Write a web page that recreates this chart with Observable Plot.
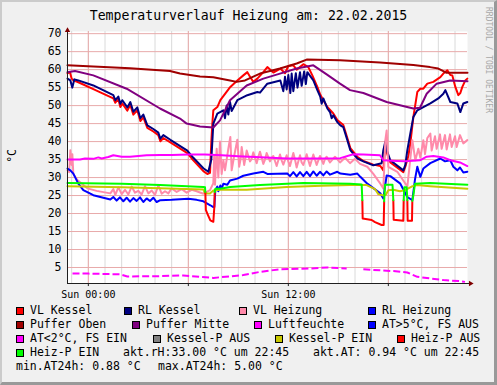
<!DOCTYPE html>
<html><head><meta charset="utf-8">
<script src="https://cdn.jsdelivr.net/npm/d3@7"></script>
<script src="https://cdn.jsdelivr.net/npm/@observablehq/plot@0.6"></script>
<style>
html,body{margin:0;padding:0;background:#f0f0f0;}
#wrap{position:relative;width:497px;height:385px;background:#f0f0f0;overflow:hidden;font-family:"DejaVu Sans Mono",monospace;color:#000;}
#frame{position:absolute;left:0;top:0;width:497px;height:385px;box-sizing:border-box;border-style:solid;border-width:2px 3px 3px 2px;border-color:#cbcbcb #999 #999 #cbcbcb;pointer-events:none;}
#chart{position:absolute;left:0;top:0;}
.t{position:absolute;white-space:pre;line-height:1;}
#title{left:0;width:497px;text-align:center;top:9.3px;font-size:13.2px;}
.lg{font-size:11.5px;}
.sw{position:absolute;width:8px;height:8px;box-sizing:border-box;border:1px solid #000;}
#wm{position:absolute;left:484px;top:7px;font-size:8px;line-height:1;writing-mode:vertical-rl;color:#a8a8a8;white-space:pre;}
#unit{position:absolute;left:7px;top:149px;font-size:11.5px;line-height:1;writing-mode:vertical-rl;transform:rotate(180deg);white-space:pre;}
</style></head>
<body><div id="wrap"><div id="chart"></div><div id="frame"></div></div>
<script>
// ---- data (hours relative to Sun 00:00, value °C) ----
const title = "Temperaturverlauf Heizung am: 22.02.2015";
const yTicks = [5,10,15,20,25,30,35,40,45,50,55,60,65,70];
const xTickHours = [0, 12];
const xTickLabels = ["Sun 00:00", "Sun 12:00"];
const minorHours = d3.range(-1, 23);
const majorHours = [0, 6, 12, 18];

const vlKessel = [[-1.25,59.0],[-1.1,59.3],[-1.0,57.5],[-0.9,57.0],[-0.6,56.5],[0.3,54.6],[1.5,52.0],[1.62,50.8],[1.8,51.8],[1.92,49.6],[2.04,50.6],[2.34,48.6],[2.52,50.2],[2.7,47.5],[2.94,48.7],[3.12,45.7],[3.3,46.7],[3.54,43.8],[3.9,42.8],[4.2,41.8],[4.32,40.1],[4.5,41.0],[4.92,39.8],[5.94,36.8],[6.3,34.8],[6.9,31.8],[7.14,31.0],[7.3,31.3],[7.38,40],[7.44,45],[7.5,48.7],[7.74,49.6],[7.92,51.5],[8.52,55.2],[8.94,57.0],[9.3,58.4],[9.54,59.3],[9.72,57.9],[9.9,56.6],[10.14,57.5],[10.5,59.3],[10.74,60.7],[11.1,59.2],[11.52,60.3],[11.8,59.0],[12.0,61.0],[12.3,61.2],[12.5,60.0],[12.9,61.5],[13.2,60.7],[13.44,58.4],[13.74,55.2],[13.92,53.0],[14.1,51.5],[14.34,49.6],[14.7,47.8],[14.94,46.0],[15.3,44.6],[15.54,41.0],[15.72,38.2],[16.14,35.8],[16.5,34.6],[17.1,33.6],[17.52,33.2],[17.7,32.0],[17.82,39.0],[17.9,37.0],[18.12,34.2],[18.9,31.5],[19.02,33.0],[19.2,36.0],[19.32,39.5],[19.5,46.8],[19.74,53.8],[19.92,54.7],[20.1,54.7],[20.34,56.1],[20.7,56.6],[21.12,57.9],[21.3,58.9],[21.54,59.8],[21.72,58.5],[21.84,58.4],[22.02,55.2],[22.2,52.9],[22.32,53.5],[22.44,55.2],[22.62,57.0],[22.74,57.5]];

const rlKessel = [[-1.25,57.5],[-1.08,57.0],[-0.96,55.0],[-0.84,57.3],[-0.6,57.0],[0.3,55.6],[1.5,52.9],[1.62,51.5],[1.8,52.5],[1.92,50.5],[2.04,51.5],[2.34,49.5],[2.52,51.0],[2.7,48.3],[2.94,49.5],[3.12,46.5],[3.3,47.5],[3.54,44.5],[3.9,43.5],[4.2,42.5],[4.32,40.8],[4.5,41.8],[4.92,40.5],[5.94,37.5],[6.3,35.5],[6.9,32.6],[7.2,31.6],[7.38,35.0],[7.5,45.0],[7.74,47.8],[8.1,48.7],[8.2,46.5],[8.3,50.0],[8.4,47.5],[8.5,51.0],[8.6,48.5],[8.94,51.5],[9.54,52.9],[10.14,53.8],[10.3,53.6],[10.74,56.1],[11.52,57.0],[11.7,54.0],[11.8,58.0],[11.9,54.5],[12.0,58.5],[12.12,53.5],[12.2,58.9],[12.3,54.0],[12.45,59.0],[12.55,55.0],[12.7,59.3],[12.8,55.5],[12.95,59.5],[13.05,56.0],[13.14,59.3],[13.5,57.0],[13.74,54.3],[13.92,52.4],[14.0,50.5],[14.1,52.0],[14.34,49.2],[14.5,48.2],[14.6,46.5],[14.7,47.3],[14.94,45.4],[15.12,44.5],[15.3,44.0],[15.54,40.4],[15.72,37.6],[16.14,35.3],[16.5,34.5],[17.1,33.4],[17.6,34.0],[17.7,37.6],[17.82,40.0],[17.9,37.6],[18.12,34.8],[18.9,32.0],[19.02,33.5],[19.14,37.6],[19.32,42.3],[19.5,46.8],[19.74,48.7],[20.1,49.6],[20.52,50.6],[21.0,52.0],[21.3,53.3],[21.42,54.3],[21.72,51.0],[22.14,50.6],[22.32,48.2],[22.5,50.6],[22.74,51.0]];

const vlHeizung = [[-1.25,32.0],[-1.15,31.5],[-1.08,37.6],[-1.0,33.5],[-0.96,36.5],[-0.9,31.0],[-0.66,29.3],[-0.06,27.0],[0.5,26.3],[1.32,25.6],[1.5,26.8],[1.62,25.2],[1.8,27.3],[2.0,25.4],[2.2,26.6],[2.4,25.3],[2.6,27.5],[2.8,25.8],[3.0,26.3],[3.2,25.3],[3.4,27.6],[3.6,25.6],[3.8,26.4],[4.0,25.2],[4.2,27.8],[4.4,25.5],[4.6,26.2],[4.8,25.6],[5.0,27.0],[5.3,26.0],[5.6,26.8],[5.9,25.8],[6.2,26.6],[6.5,26.2],[6.9,25.5],[7.1,26.0],[7.3,26.5],[7.5,28.4],[7.55,36.0],[7.6,28.0],[7.7,38.0],[7.8,30.0],[7.9,40.0],[8.0,31.0],[8.1,34.8],[8.2,32.0],[8.4,38.0],[8.52,41.3],[8.6,32.0],[8.75,36.0],[8.94,40.5],[9.05,33.0],[9.15,35.5],[9.2,38.5],[9.35,33.5],[9.45,36.0],[9.5,37.5],[9.7,34.5],[9.8,35.2],[9.9,37.0],[10.1,34.0],[10.2,35.8],[10.3,37.2],[10.5,33.8],[10.6,35.0],[10.7,36.8],[10.9,34.5],[11.0,35.5],[11.1,36.0],[11.3,33.2],[11.5,36.4],[11.6,34.8],[11.7,33.6],[11.9,36.2],[12.0,34.5],[12.1,33.2],[12.3,36.8],[12.4,35.0],[12.5,32.8],[12.7,36.2],[12.8,34.2],[12.9,33.5],[13.1,36.5],[13.2,34.8],[13.3,33.2],[13.5,36.4],[13.6,35.0],[13.7,33.5],[13.9,36.0],[14.1,33.8],[14.2,35.2],[14.3,35.8],[14.5,34.2],[14.8,35.8],[15.1,34.2],[15.4,35.5],[15.7,34.0],[16.0,35.2],[16.3,33.8],[16.74,33.0],[17.1,31.0],[17.52,28.3],[17.7,27.0],[17.82,40.4],[17.9,43.1],[18.0,33.0],[18.54,31.6],[19.14,27.5],[19.44,40.4],[19.62,34.8],[19.8,38.0],[19.92,35.5],[20.1,40.4],[20.2,36.5],[20.34,41.0],[20.52,42.2],[20.6,37.5],[20.8,41.5],[20.9,38.0],[21.1,42.0],[21.2,38.0],[21.4,41.8],[21.5,37.8],[21.7,42.0],[21.8,38.5],[22.0,41.5],[22.1,38.5],[22.3,41.8],[22.5,39.5],[22.74,40.4]];

const rlHeizung = [[-1.25,32.5],[-1.08,32.0],[-0.9,31.1],[-0.6,28.3],[-0.3,26.5],[0.3,25.1],[1.32,23.9],[1.5,24.6],[1.7,23.6],[1.9,24.5],[2.1,23.4],[2.3,24.4],[2.5,23.3],[2.7,24.3],[2.9,23.5],[3.1,24.5],[3.3,23.2],[3.5,24.2],[3.7,23.5],[3.9,24.4],[4.1,23.2],[4.32,23.7],[5.0,23.8],[6.0,24.1],[6.5,23.8],[6.9,23.4],[7.32,22.3],[7.5,21.8],[7.56,21.8],[7.62,26.5],[7.74,27.5],[7.8,26.2],[7.92,27.8],[8.0,26.8],[8.1,28.3],[8.34,28.0],[8.5,29.2],[8.94,29.7],[9.3,30.5],[9.9,31.1],[10.5,31.6],[10.74,31.0],[11.94,31.1],[12.1,30.4],[12.3,31.5],[12.5,30.3],[12.7,31.5],[12.9,30.4],[13.1,31.6],[13.3,30.4],[13.5,31.7],[13.7,30.5],[13.9,31.6],[14.1,30.6],[14.3,31.7],[14.5,30.8],[14.94,31.6],[15.12,31.1],[15.72,30.8],[16.14,31.1],[16.32,30.2],[16.74,28.3],[17.52,25.6],[17.7,24.2],[17.9,30.6],[18.12,30.4],[18.72,28.3],[19.14,24.6],[19.44,23.7],[19.6,29.5],[19.74,33.0],[19.8,32.0],[19.92,30.2],[20.1,32.5],[20.52,34.0],[21.12,35.3],[21.4,34.5],[21.72,34.8],[21.9,33.0],[22.14,32.0],[22.3,32.8],[22.5,31.4],[22.74,31.6]];

const pufferOben = [[-1.25,61.2],[0.3,60.9],[2.5,60.4],[4.9,59.6],[5.5,58.9],[6.7,58.1],[7.5,57.9],[8.5,57.0],[8.9,56.6],[9.4,57.0],[10.3,58.9],[11.5,60.3],[12.5,61.7],[13.1,62.8],[15.1,62.6],[17.5,62.0],[19.5,61.3],[20.5,60.7],[21.0,60.3],[21.3,59.6],[21.5,59.1],[22.75,59.1]];

const pufferMitte = [[-1.25,59.3],[-0.8,59.6],[0.3,58.4],[2.3,54.7],[4.3,49.2],[5.5,46.4],[5.9,45.0],[6.7,44.2],[7.5,43.9],[7.9,45.9],[8.5,51.5],[9.5,55.6],[10.5,57.5],[11.5,58.9],[12.5,60.3],[13.5,61.2],[14.3,58.7],[15.1,56.1],[15.7,54.3],[16.5,53.5],[17.9,51.0],[19.5,49.2],[19.9,49.4],[20.3,53.3],[20.9,56.1],[21.7,57.0],[22.75,56.8]];

const luftfeuchte = [[-1.25,35.0],[-0.5,35.0],[-0.2,35.3],[0.3,35.2],[0.6,35.6],[0.8,35.3],[1.2,35.7],[1.5,36.2],[2.0,35.8],[2.5,35.8],[3.0,36.0],[3.5,36.2],[4.3,36.3],[5.0,36.3],[6.0,36.4],[7.0,36.4],[8.0,36.2],[9.0,35.9],[10.0,35.7],[11.9,35.3],[14.0,35.3],[15.12,35.4],[15.9,36.5],[16.5,36.4],[17.5,36.2],[17.7,34.8],[18.5,34.6],[19.0,34.5],[19.9,34.8],[20.3,35.8],[20.7,36.0],[21.3,35.6],[21.72,34.8],[22.3,34.2],[22.74,33.2]];

const aussenTemp = [[-0.95,3.3],[0.0,3.3],[1.92,3.1],[2.34,2.5],[4.32,2.6],[5.7,2.8],[7.5,2.1],[9.3,2.9],[10.32,3.8],[11.5,4.5],[13.3,4.7],[14.34,5.0],[15.5,4.7],[15.6,null],[16.5,4.5],[18.3,4.0],[19.14,3.6],[19.74,2.4],[21.3,1.5],[22.3,1.2],[22.6,1.0]];

const kesselPEin = [[-1.25,27.6],[2.0,27.3],[4.3,27.0],[6.9,26.7],[7.0,25.6],[7.3,25.6],[7.5,26.4],[7.9,26.6],[9.5,26.6],[11.9,27.4],[14.0,27.7],[15.7,27.9],[16.7,27.9],[17.2,26.8],[17.4,25.4],[17.7,25.0],[17.85,25.2],[18.0,26.5],[18.3,26.6],[18.7,26.2],[19.0,26.5],[19.4,27.5],[19.7,27.9],[20.5,27.6],[22.74,26.9]];

const heizPEin = [[-1.25,28.5],[2.0,28.3],[4.3,27.9],[6.9,27.4],[7.0,27.3],[7.02,26.0],[7.03,null],[7.58,26.0],[7.62,26.9],[7.9,26.9],[8.5,27.4],[10.3,27.9],[12.9,28.5],[15.7,28.3],[16.4,28.1],[16.44,23.7],[16.5,null],[17.75,23.4],[17.8,28.0],[18.25,28.0],[18.3,23.7],[18.5,null],[18.92,23.7],[18.96,27.3],[19.1,27.3],[19.14,23.7],[19.3,null],[19.44,23.5],[19.5,25.0],[19.6,28.3],[20.5,28.5],[22.74,28.0]];

const heizPAus = [[7.02,26.0],[7.05,21.0],[7.14,20.0],[7.32,18.1],[7.5,17.7],[7.56,21.8],[7.58,26.0],[7.6,null],[16.44,23.7],[16.46,18.6],[17.0,18.2],[17.2,17.6],[17.6,16.8],[17.72,16.8],[17.75,23.4],[17.8,null],[18.3,23.7],[18.32,18.3],[18.9,18.0],[18.92,23.7],[19.0,null],[19.14,23.7],[19.16,18.0],[19.42,18.0],[19.44,23.5]];

const legendRows = [
  [["VL Kessel","#ff0000",16],["RL Kessel","#000080",124],["VL Heizung","#ff8aaa",239],["RL Heizung","#0000ff",368]],
  [["Puffer Oben","#a00000",16],["Puffer Mitte","#800080",132],["Luftfeuchte","#ff00ff",254],["AT>5°C, FS AUS","#0000ff",368]],
  [["AT<2°C, FS EIN","#ff00ff",16],["Kessel-P AUS","#808080",153],["Kessel-P EIN","#c8c800",275],["Heiz-P AUS","#ff0000",397]],
  [["Heiz-P EIN","#00ff00",16]]
];
const legendTexts = [["akt.rH:33.00 °C um 22:45",123,3],["akt.AT: 0.94 °C um 22:45",313,3],["min.AT24h: 0.88 °C",16,4],["max.AT24h: 5.00 °C",158,4]];

// ---- chart ----
const X = d => d[0], Y = d => d[1];
const line = (data, stroke, extra={}) => Plot.line(data, {x: X, y: Y, stroke, strokeWidth: 2, ...extra});
const chart = Plot.plot({
  width: 497, height: 305,
  marginLeft: 67, marginRight: 30, marginTop: 31, marginBottom: 22,
  x: {domain: [-1.25, 22.75], axis: null},
  y: {domain: [0.55, 70.6], axis: null},
  style: {background: "transparent", overflow: "visible", fontFamily: "DejaVu Sans Mono"},
  marks: [
    Plot.frame({fill: "#ffffff", stroke: null}),
    Plot.ruleX(minorHours, {stroke: "#dadada"}),
    Plot.ruleX(majorHours, {stroke: "#e8aaaa"}),
    Plot.ruleY(yTicks, {stroke: "#e8aaaa"}),
    line(vlKessel, "#ff0000"),
    line(rlKessel, "#000080"),
    line(vlHeizung, "#ff8aaa"),
    line(rlHeizung, "#0000ff"),
    line(pufferOben, "#a00000"),
    line(pufferMitte, "#800080"),
    line(luftfeuchte, "#ff00ff"),
    line(aussenTemp, "#ff00ff", {strokeDasharray: "7,3", strokeLinecap: "butt"}),
    line(kesselPEin, "#c8c800"),
    line(heizPAus, "#ff0000"),
    line(heizPEin, "#00ff00"),
    Plot.ruleX([-1.25], {y1: 0.55, y2: 71.3, stroke: "#1f1f1f"}),
    Plot.ruleY([0.55], {x1: -1.25, x2: 22.9, stroke: "#1f1f1f"}),
    Plot.ruleX(majorHours, {y1: 0.55, y2: -0.3, stroke: "#1f1f1f"}),
    Plot.dot([[-1.25, 70.9]], {x: X, y: Y, symbol: "triangle", r: 2, fill: "#7f0000", stroke: null}),
    Plot.dot([[22.93, 0.55]], {x: X, y: Y, symbol: "triangle", r: 2, fill: "#7f0000", stroke: null, rotate: 90}),
    Plot.text(yTicks, {x: -1.25, y: d => d, dx: -6, text: d => String(d), textAnchor: "end", fontSize: 11.5, fill: "#000"}),
    Plot.text(xTickHours, {x: d => d, y: 0.55, dy: 11, text: (d, i) => xTickLabels[i], fontSize: 10, fill: "#000"})
  ]
});
document.getElementById("chart").appendChild(chart);

// ---- titles / legend ----
const wrap = document.getElementById("wrap");
function addText(txt, left, top, cls, id) {
  const el = document.createElement("div");
  el.className = "t " + (cls || "");
  if (id) el.id = id;
  el.textContent = txt;
  if (left != null) el.style.left = left + "px";
  if (top != null) el.style.top = top + "px";
  wrap.appendChild(el);
  return el;
}
addText(title, null, null, "", "title");
const wm = document.createElement("div"); wm.id = "wm"; wm.textContent = "RRDTOOL / TOBI OETIKER"; wrap.appendChild(wm);
const un = document.createElement("div"); un.id = "unit"; un.textContent = "°C"; wrap.appendChild(un);
const base0 = 315, rowH = 14, fs = 11.5, ascOff = 0.846 * fs;
legendRows.forEach((row, r) => {
  const base = base0 + r * rowH;
  row.forEach(([label, color, x]) => {
    const sw = document.createElement("div");
    sw.className = "sw";
    sw.style.left = x + "px"; sw.style.top = (base - 8) + "px"; sw.style.background = color;
    wrap.appendChild(sw);
    addText(label, x + 14, base - ascOff, "lg");
  });
});
legendTexts.forEach(([txt, x, r]) => addText(txt, x, base0 + r * rowH - ascOff, "lg"));
</script>
</body></html>
